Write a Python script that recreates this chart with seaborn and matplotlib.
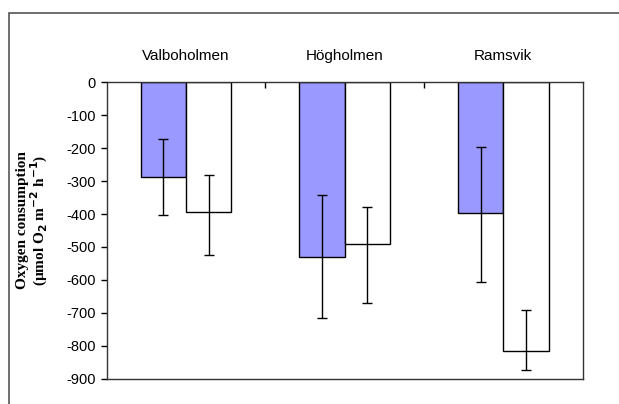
import matplotlib
matplotlib.use("Agg")
import matplotlib.pyplot as plt
import matplotlib.patches as mpatches
import seaborn as sns
import pandas as pd

sites = ["Valboholmen", "Högholmen", "Ramsvik"]
series = ["A", "B"]
values_a = [-287, -530, -398]
values_b = [-395, -490, -817]
# error extents (below, above)
err_below_a = [115, 187, 208]
err_above_a = [114, 187, 203]
err_below_b = [128, 180, 57]
err_above_b = [115, 112, 125]
yticks = [0, -100, -200, -300, -400, -500, -600, -700, -800, -900]

df = pd.DataFrame({
    "site": sites * 2,
    "series": ["A"] * 3 + ["B"] * 3,
    "value": values_a + values_b,
})

plt.rcParams["axes.unicode_minus"] = False
plt.rcParams["font.family"] = ["Liberation Sans", "DejaVu Sans"]

fig = plt.figure(figsize=(6.19, 4.04), dpi=100)
ax = fig.add_axes([106.7 / 619, 25.3 / 404, 476 / 619, 296.4 / 404])

sns.barplot(data=df, x="site", y="value", hue="series", order=sites,
            hue_order=series, palette=["#9999FF", "#FFFFFF"], saturation=1,
            width=0.573, edgecolor="black", linewidth=1, errorbar=None,
            legend=False, ax=ax)

# error bars at bar centres
bars = ax.patches[:6]
lows = err_below_a + err_below_b
highs = err_above_a + err_above_b
vals = values_a + values_b
for b, v, lo, hi in zip(bars, vals, lows, highs):
    xc = b.get_x() + b.get_width() / 2
    ax.errorbar(xc, v, yerr=[[lo], [hi]], fmt="none", ecolor="black",
                elinewidth=1, capsize=3.6, capthick=1)

ax.set_xlim(-0.5, 2.5)
ax.set_ylim(-900, 0)
ax.set_yticks(yticks)
ax.set_yticklabels([str(t) for t in yticks], fontsize=10.5)
ax.tick_params(axis="y", direction="out", length=4, width=1, pad=4)

ax.xaxis.tick_top()
ax.set_xticks([0, 1, 2])
ax.set_xticklabels(sites, fontsize=11)
ax.tick_params(axis="x", which="major", length=0, pad=14)
ax.set_xticks([0.5, 1.5], minor=True)
ax.tick_params(axis="x", which="minor", direction="in", length=4, width=1, top=True, bottom=False)
ax.set_xlabel("")
ax.set_ylabel("")

for s in ax.spines.values():
    s.set_color("#333333")
    s.set_linewidth(1)

fig.text(33 / 619, (404 - 220) / 404,
         "Oxygen consumption\n(µmol O$_\\mathbf{2}$ m$^\\mathbf{-2}$ h$^\\mathbf{-1}$)",
         rotation=90, ha="center", va="center", fontsize=11, fontweight="bold",
         family=["Liberation Serif", "DejaVu Serif"], linespacing=1.0)

# outer chart frame
fig.patches.append(mpatches.Rectangle((9 / 619, -0.1), 1.2, (404 - 13) / 404 + 0.1,
                                      transform=fig.transFigure, fill=False,
                                      edgecolor="#555555", linewidth=1.2))

fig.savefig("out.png", dpi=100)
